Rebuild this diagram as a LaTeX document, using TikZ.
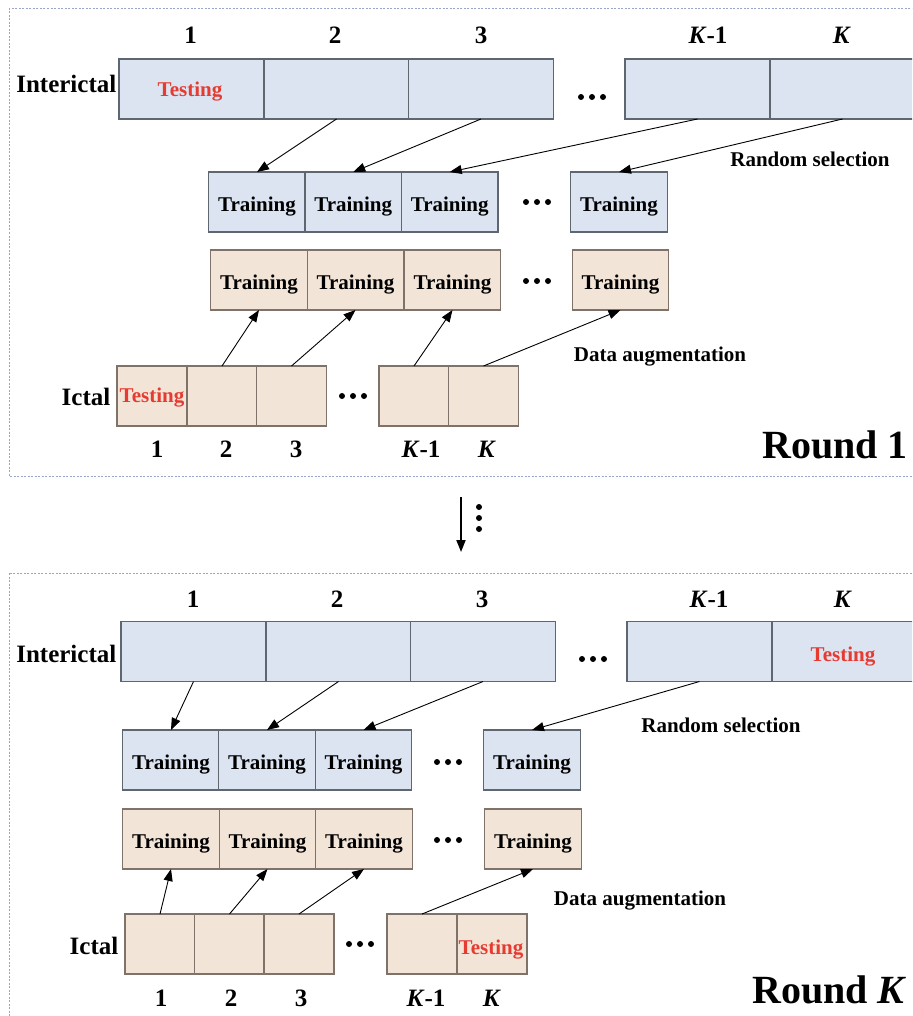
\documentclass[tikz,border=0pt]{standalone}
\usepackage{fontspec}
\setmainfont{Liberation Serif}
\usetikzlibrary{arrows.meta}
\definecolor{bluefill}{HTML}{DCE4F2}
\definecolor{peachfill}{HTML}{F3E4D8}
\definecolor{blueedge}{HTML}{5E6670}
\definecolor{peachedge}{HTML}{7F7268}
\definecolor{testred}{HTML}{E53B30}
\definecolor{framecol}{HTML}{98A6CC}
\tikzset{
  cellbase/.style={rectangle, inner sep=0pt, outer sep=0pt, line width=1.1pt,
    font=\fontsize{21}{24}\selectfont\bfseries, text height=19pt, text depth=0pt},
  bcell/.style={cellbase, draw=blueedge, fill=bluefill},
  pcell/.style={cellbase, draw=peachedge, fill=peachfill},
  bigcell/.style={minimum width=145pt, minimum height=60pt},
  midcell/.style={minimum width=96.5pt, minimum height=60pt},
  smallcell/.style={minimum width=70pt, minimum height=60pt},
  testtxt/.style={text=testred},
  lab/.style={font=\fontsize{25}{30}\selectfont\bfseries, inner sep=0pt, anchor=base},
  sublab/.style={font=\fontsize{21}{24}\selectfont\bfseries, inner sep=0pt, anchor=base},
  roundlab/.style={font=\fontsize{40}{46}\selectfont\bfseries, inner sep=0pt, anchor=base east},
  arr/.style={line width=0.9pt, -{Triangle[length=12pt,width=9pt]}, shorten >=0pt},
  frame/.style={draw=framecol, line width=0.8pt, dash pattern=on 2pt off 1.5pt},
  dot/.style={circle, fill=black, inner sep=0pt, minimum size=6pt}
}
\newcommand{\KK}{\textit{K}}
\begin{document}
\begin{tikzpicture}[x=1pt,y=-1pt]
\useasboundingbox (0,0) rectangle (912,1016);
\clip (0,0) rectangle (912,1016);
% frames
\draw[frame] (9,8) rectangle (940,476);
\draw[frame] (9,573) rectangle (940,1040);

% ================= ROUND 1 =================
\node[bcell,bigcell] (ai1) at (191.5,89) {};
\node[bcell,bigcell] (ai2) at (336.5,89) {};
\node[bcell,bigcell] (ai3) at (481,89) {};
\node[bcell,bigcell] (aik1) at (697.5,89) {};
\node[bcell,bigcell] (aik) at (842.5,89) {};
\node[lab, text=testred, font=\fontsize{21}{24}\selectfont\bfseries] (atest1) at (190,97) {Testing};
\node[lab, anchor=base east] (ainter) at (116.5,93) {Interictal};
\node[lab] (an1) at (190.6,44) {1};
\node[lab] (an2) at (335,44) {2};
\node[lab] (an3) at (481,44) {3};
\node[lab] (ank1) at (708,44) {\KK-1};
\node[lab] (ank) at (842,44) {\KK};
\node[dot] (ad1) at (581,97) {};
\node[dot] (ad2) at (592,97) {};
\node[dot] (ad3) at (603,97) {};

\node[bcell,midcell] (at1) at (257,202) {Training};
\node[bcell,midcell] (at2) at (353.25,202) {Training};
\node[bcell,midcell] (at3) at (449.75,202) {Training};
\node[bcell,midcell] (at4) at (619,202) {Training};
\node[dot] (ad4) at (526,202) {};
\node[dot] (ad5) at (537,202) {};
\node[dot] (ad6) at (548,202) {};
\node[sublab] (arand) at (810,167) {Random selection};

\draw[arr] (ai2.south) -- (at1.north);
\draw[arr] (ai3.south) -- (at2.north);
\draw[arr] (aik1.south) -- (at3.north);
\draw[arr] (aik.south) -- (at4.north);

\node[pcell,midcell] (ap1) at (259,280) {Training};
\node[pcell,midcell] (ap2) at (355.5,280) {Training};
\node[pcell,midcell] (ap3) at (452.5,280) {Training};
\node[pcell,midcell] (ap4) at (620.5,280) {Training};
\node[dot] (ad7) at (526,281) {};
\node[dot] (ad8) at (537,281) {};
\node[dot] (ad9) at (548,281) {};

\node[pcell,smallcell] (ac1) at (152,396) {};
\node[pcell,smallcell] (ac2) at (222,396) {};
\node[pcell,smallcell] (ac3) at (291.5,396) {};
\node[pcell,smallcell] (ack1) at (414,396) {};
\node[pcell,smallcell] (ack) at (483.5,396) {};
\node[lab, text=testred, font=\fontsize{21}{24}\selectfont\bfseries] (atest2) at (152,402) {Testing};
\node[lab, anchor=base east] (aictal) at (110.5,405) {Ictal};
\node[dot] (ad10) at (342,396) {};
\node[dot] (ad11) at (353,396) {};
\node[dot] (ad12) at (364,396) {};
\node[lab] (am1) at (157,457) {1};
\node[lab] (am2) at (226,457) {2};
\node[lab] (am3) at (296,457) {3};
\node[lab] (amk1) at (421,457) {\KK-1};
\node[lab] (amk) at (487,457) {\KK};
\node[sublab] (aaug) at (660,361) {Data augmentation};

\draw[arr] (ac2.north) -- (ap1.south);
\draw[arr] (ac3.north) -- (ap2.south);
\draw[arr] (ack1.north) -- (ap3.south);
\draw[arr] (ack.north) -- (ap4.south);

\node[roundlab] (around1) at (908,458) {Round 1};

% between rounds
\coordinate (mida) at (461,497);
\coordinate (midb) at (461,552);
\draw[line width=1.8pt, -{Triangle[length=12pt,width=9pt]}] (mida) -- (midb);
\node[dot] (vd1) at (479,507) {};
\node[dot] (vd2) at (479,518) {};
\node[dot] (vd3) at (479,529) {};

% ================= ROUND K =================
\node[bcell,bigcell] (bi1) at (193.5,651.5) {};
\node[bcell,bigcell] (bi2) at (338.5,651.5) {};
\node[bcell,bigcell] (bi3) at (483,651.5) {};
\node[bcell,bigcell] (bik1) at (699.5,651.5) {};
\node[bcell,bigcell] (bik) at (844.5,651.5) {};
\node[lab, text=testred, font=\fontsize{21}{24}\selectfont\bfseries] (btest1) at (843,661) {Testing};
\node[lab, anchor=base east] (binter) at (116.5,662) {Interictal};
\node[lab] (bn1) at (193,607) {1};
\node[lab] (bn2) at (337,607) {2};
\node[lab] (bn3) at (482,607) {3};
\node[lab] (bnk1) at (709,607) {\KK-1};
\node[lab] (bnk) at (843,607) {\KK};
\node[dot] (bd1) at (582,659) {};
\node[dot] (bd2) at (593,659) {};
\node[dot] (bd3) at (604,659) {};

\node[bcell,midcell] (bt1) at (171,760) {Training};
\node[bcell,midcell] (bt2) at (267,760) {Training};
\node[bcell,midcell] (bt3) at (363.5,760) {Training};
\node[bcell,midcell] (bt4) at (532,760) {Training};
\node[dot] (bd4) at (437,762) {};
\node[dot] (bd5) at (448,762) {};
\node[dot] (bd6) at (459,762) {};
\node[sublab] (brand) at (721,732) {Random selection};

\draw[arr] (bi1.south) -- (bt1.north);
\draw[arr] (bi2.south) -- (bt2.north);
\draw[arr] (bi3.south) -- (bt3.north);
\draw[arr] (bik1.south) -- (bt4.north);

\node[pcell,midcell] (bp1) at (171,839) {Training};
\node[pcell,midcell] (bp2) at (267.5,839) {Training};
\node[pcell,midcell] (bp3) at (364,839) {Training};
\node[pcell,midcell] (bp4) at (533,839) {Training};
\node[dot] (bd7) at (437,840) {};
\node[dot] (bd8) at (448,840) {};
\node[dot] (bd9) at (459,840) {};

\node[pcell,smallcell] (bc1) at (160,944) {};
\node[pcell,smallcell] (bc2) at (229.5,944) {};
\node[pcell,smallcell] (bc3) at (299,944) {};
\node[pcell,smallcell] (bck1) at (422,944) {};
\node[pcell,smallcell] (bck) at (492,944) {};
\node[lab, text=testred, font=\fontsize{21}{24}\selectfont\bfseries] (btest2) at (491,954) {Testing};
\node[lab, anchor=base east] (bictal) at (118.5,954) {Ictal};
\node[dot] (bd10) at (349,944) {};
\node[dot] (bd11) at (360,944) {};
\node[dot] (bd12) at (371,944) {};
\node[lab] (bm1) at (161,1006) {1};
\node[lab] (bm2) at (231,1006) {2};
\node[lab] (bm3) at (301,1006) {3};
\node[lab] (bmk1) at (426,1006) {\KK-1};
\node[lab] (bmk) at (492,1006) {\KK};
\node[sublab] (baug) at (640,905) {Data augmentation};

\draw[arr] (bc1.north) -- (bp1.south);
\draw[arr] (bc2.north) -- (bp2.south);
\draw[arr] (bc3.north) -- (bp3.south);
\draw[arr] (bck1.north) -- (bp4.south);

\node[roundlab] (aroundk) at (907,1003) {Round \KK};
\end{tikzpicture}
\end{document}
